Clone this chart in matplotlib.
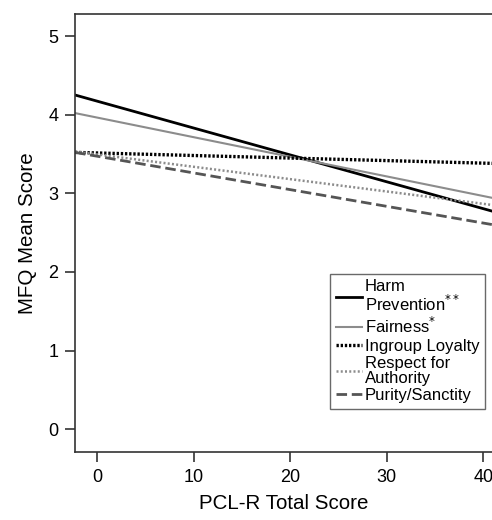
import matplotlib.pyplot as plt

plt.rcParams['font.family'] = ['Liberation Sans', 'DejaVu Sans']

# regression lines, values read at the left and right edges of the plot
x_ends = [-2.3, 41]
harm = [4.25, 2.77]
fairness = [4.02, 2.94]
ingroup = [3.52, 3.38]
authority = [3.53, 2.85]
purity = [3.52, 2.60]

labels = ['Harm\nPrevention$^{**}$', 'Fairness$^{*}$', 'Ingroup Loyalty',
          'Respect for\nAuthority', 'Purity/Sanctity']

fig = plt.figure(figsize=(4.92, 5.2), dpi=100)
ax = fig.add_axes([0.1524, 0.1308, 0.8476, 0.8423])

ax.plot(x_ends, harm, '-', c='black', lw=2, label=labels[0])
ax.plot(x_ends, fairness, '-', c='#8c8c8c', lw=1.5, label=labels[1])
ax.plot(x_ends, ingroup, c='black', lw=2.4, dashes=(0.7, 0.55), label=labels[2])
ax.plot(x_ends, authority, c='#8c8c8c', lw=1.8, dashes=(0.8, 0.9), label=labels[3])
ax.plot(x_ends, purity, c='#555555', lw=2, dashes=(3.8, 1.7), label=labels[4])

ax.set_xlim(-2.3, 40.9)
ax.set_ylim(-0.29, 5.28)
ax.set_xticks([0, 10, 20, 30, 40])
ax.set_yticks([0, 1, 2, 3, 4, 5])
ax.spines['right'].set_visible(False)
for s in ['left', 'bottom', 'top']:
    ax.spines[s].set_linewidth(1.2)
    ax.spines[s].set_color('#333333')
ax.tick_params(direction='out', length=7, width=1.2, labelsize=13, color='#333333', pad=5)
ax.set_xlabel('PCL-R Total Score', fontsize=14.8, labelpad=6)
ax.set_ylabel('MFQ Mean Score', fontsize=14.8, labelpad=8)

leg = ax.legend(loc='lower left', bbox_to_anchor=(0.611, 0.098), fontsize=12,
                frameon=True, fancybox=False, edgecolor='#444444',
                handlelength=1.6, handletextpad=0.15, labelspacing=0.15,
                borderpad=0.35, borderaxespad=0)
leg.get_frame().set_linewidth(1.0)
for t in leg.get_texts():
    t.set_linespacing(0.95)

fig.savefig('out.png', dpi=100)
